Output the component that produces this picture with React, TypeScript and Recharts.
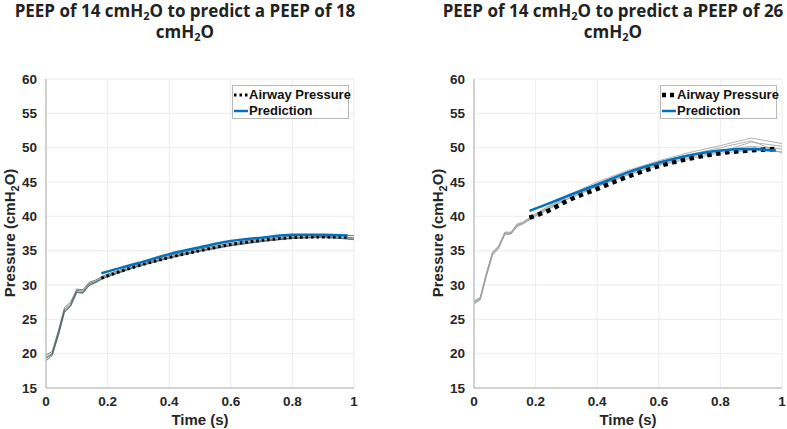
import React from 'react';
import { LineChart, Line, XAxis, YAxis, CartesianGrid } from 'recharts';

// sample times (s) for the measured breaths and for the prediction window
const TIME = [0, 0.02, 0.04, 0.06, 0.08, 0.1, 0.12, 0.14, 0.16, 0.18, 0.2, 0.3, 0.4, 0.5, 0.6, 0.7, 0.8, 0.9, 1.0];
const TIME_PRED = [0.18, 0.25, 0.3, 0.4, 0.5, 0.6, 0.7, 0.8, 0.9, 0.98];

// PEEP 14 -> 18
const BREATHS_18 = [
  [19.5, 20.0, 23.0, 26.4, 27.2, 29.2, 29.1, 30.2, 30.5, 31.0, 31.4, 32.9, 34.1, 35.1, 35.9, 36.5, 36.9, 37.1, 36.9],
  [19.0, 19.7, 22.6, 26.0, 26.9, 28.9, 28.8, 29.9, 30.3, 30.8, 31.2, 32.7, 33.9, 34.9, 35.7, 36.3, 36.8, 37.0, 36.6],
  [19.8, 20.3, 23.3, 26.7, 27.5, 29.4, 29.3, 30.4, 30.7, 31.2, 31.6, 33.1, 34.3, 35.3, 36.1, 36.7, 37.1, 37.3, 37.2],
  [19.3, 19.9, 22.8, 26.2, 27.0, 29.0, 28.9, 30.0, 30.4, 30.9, 31.3, 32.8, 34.0, 35.0, 35.8, 36.4, 36.8, 36.9, 36.7],
];
const AIRWAY_18 = [31.0, 32.1, 32.8, 34.0, 35.0, 35.9, 36.5, 36.9, 37.0, 37.0];
const PRED_18 = [31.7, 32.6, 33.2, 34.5, 35.5, 36.4, 36.9, 37.3, 37.3, 37.2];

// PEEP 14 -> 26
const BREATHS_26 = [
  [27.5, 28.0, 31.5, 34.6, 35.5, 37.5, 37.5, 38.7, 39.0, 39.6, 40.2, 42.7, 44.6, 46.3, 47.7, 48.8, 49.6, 50.2, 49.8],
  [27.2, 27.8, 31.2, 34.3, 35.3, 37.3, 37.4, 38.5, 38.9, 39.5, 40.0, 42.4, 44.3, 46.0, 47.4, 48.4, 49.2, 49.6, 49.4],
  [27.7, 28.2, 31.7, 34.8, 35.7, 37.7, 37.7, 38.9, 39.2, 39.8, 40.4, 43.0, 45.0, 46.7, 48.1, 49.3, 50.3, 51.4, 50.6],
  [27.4, 27.9, 31.4, 34.5, 35.4, 37.4, 37.5, 38.6, 39.0, 39.6, 40.1, 42.5, 44.4, 46.1, 47.5, 48.6, 49.4, 50.8, 50.2],
  [27.6, 28.1, 31.6, 34.7, 35.6, 37.6, 37.6, 38.8, 39.1, 39.7, 40.3, 42.8, 44.8, 46.5, 47.9, 49.0, 50.0, 51.0, 49.2],
];
const AIRWAY_26 = [39.8, 41.0, 42.2, 44.0, 45.8, 47.3, 48.4, 49.2, 49.6, 49.8];
const PRED_26 = [40.8, 42.0, 42.9, 44.6, 46.4, 47.8, 48.9, 49.6, 49.8, 49.6];

const X_TICKS = [0, 0.2, 0.4, 0.6, 0.8, 1];
const Y_TICKS = [15, 20, 25, 30, 35, 40, 45, 50, 55, 60];

const toPoints = (ts: number[], vs: number[]) => ts.map((t, i) => ({ t, v: vs[i] }));

const AXIS_FONT = '"Liberation Sans", Arial, sans-serif';
const tickStyle = { fill: '#262626', fontSize: 13.5, fontWeight: 700, fontFamily: AXIS_FONT };

type PanelProps = {
  left: number;
  title: string[];
  breaths: number[][];
  breathColor: string;
  airway: number[];
  pred: number[];
  dotWidth: number;
  dotDash: string;
  legendDash: string;
};

// renders "cmH2O" with a real subscript
function WithSub({ text }: { text: string }) {
  const parts = text.split('H2O');
  return (
    <>
      {parts.map((p, j) => (
        <React.Fragment key={j}>
          {p}
          {j < parts.length - 1 && (
            <>H<sub style={{ fontSize: 11, verticalAlign: '-3px', lineHeight: 0 }}>2</sub>O</>
          )}
        </React.Fragment>
      ))}
    </>
  );
}

function Panel({ left, title, breaths, breathColor, airway, pred, dotWidth, dotDash, legendDash }: PanelProps) {
  const plotLeft = 46;
  const plotRight = 354;
  return (
    <div style={{ position: 'absolute', left, top: 0, width: 393, height: 429 }}>
      <div
        style={{
          position: 'absolute', left: 185 - 200, width: 400, top: 0,
          textAlign: 'center', fontFamily: '"Open Sans", sans-serif', fontWeight: 700, fontSize: 17,
          lineHeight: '21px', color: '#222', whiteSpace: 'nowrap',
        }}
      >
        {title.map((line, i) => (
          <div key={i}><WithSub text={line} /></div>
        ))}
      </div>
      <LineChart width={393} height={429} margin={{ top: 79, right: 393 - plotRight, left: 0, bottom: 0 }}>
        <CartesianGrid stroke="#ececec" />
        <XAxis
          dataKey="t" type="number" domain={[0, 1]} ticks={X_TICKS} allowDataOverflow
          height={41} tick={tickStyle} tickLine={false} stroke="#b0b0b0" tickMargin={2}
          tickFormatter={(v: number) => String(v)}
          label={{ value: 'Time (s)', position: 'insideBottom', offset: 4, fill: '#262626', fontSize: 15, fontWeight: 700, fontFamily: AXIS_FONT }}
        />
        <XAxis xAxisId="top" orientation="top" type="number" domain={[0, 1]} height={0} tick={false} tickLine={false} stroke="#b0b0b0" />
        <YAxis
          type="number" domain={[15, 60]} ticks={Y_TICKS} width={plotLeft}
          tick={tickStyle} tickLine={false} stroke="#b0b0b0" tickMargin={3}
        />
        <YAxis yAxisId="right" orientation="right" type="number" domain={[15, 60]} width={0} tick={false} tickLine={false} stroke="#b0b0b0" />
        {breaths.map((b, i) => (
          <Line
            key={i} data={toPoints(TIME, b)} dataKey="v" type="linear" stroke={breathColor}
            strokeWidth={0.8} dot={false} isAnimationActive={false}
          />
        ))}
        <Line
          data={toPoints(TIME_PRED, airway)} dataKey="v" type="monotone" stroke="#000"
          strokeWidth={dotWidth} strokeDasharray={dotDash} dot={false} isAnimationActive={false}
        />
        <Line
          data={toPoints(TIME_PRED, pred)} dataKey="v" type="monotone" stroke="#0072bd"
          strokeWidth={2.5} dot={false} isAnimationActive={false}
        />
      </LineChart>
      <svg width={24} height={429} style={{ position: 'absolute', left: 0, top: 0, overflow: 'visible' }}>
        <text
          transform="translate(15,233) rotate(-90)"
          textAnchor="middle"
          fill="#262626"
          fontSize={15}
          fontWeight={700}
          fontFamily={AXIS_FONT}
        >
          Pressure (cmH<tspan dy={4} fontSize={11}>2</tspan><tspan dy={-4}>O)</tspan>
        </text>
      </svg>
      <div
        style={{
          position: 'absolute', left: 232, top: 85, width: 117, height: 34, boxSizing: 'border-box',
          border: '1px solid #b8b8b8', background: '#fff', fontFamily: AXIS_FONT, fontWeight: 700,
          fontSize: 13, color: '#111', lineHeight: '16px', paddingTop: 0.5,
        }}
      >
        <div style={{ display: 'flex', alignItems: 'center', whiteSpace: 'nowrap' }}>
          <svg width={16} height={16} style={{ flex: 'none' }}>
            <line x1={1} y1={8} x2={15} y2={8} stroke="#000" strokeWidth={dotWidth} strokeDasharray={legendDash} />
          </svg>
          <span>Airway Pressure</span>
        </div>
        <div style={{ display: 'flex', alignItems: 'center', whiteSpace: 'nowrap' }}>
          <svg width={16} height={16} style={{ flex: 'none' }}>
            <line x1={1} y1={8} x2={15} y2={8} stroke="#0072bd" strokeWidth={2.5} />
          </svg>
          <span>Prediction</span>
        </div>
      </div>
    </div>
  );
}

export default function App() {
  return (
    <div style={{ position: 'absolute', left: 0, top: 0, width: 787, height: 429, background: '#fff', overflow: 'hidden' }}>
      <Panel
        left={0}
        title={['PEEP of 14 cmH2O to predict a PEEP of 18', 'cmH2O']}
        breaths={BREATHS_18}
        breathColor="#4d5f5f"
        airway={AIRWAY_18}
        pred={PRED_18}
        dotWidth={3}
        dotDash="2.5 3"
        legendDash="2.5 3"
      />
      <Panel
        left={428}
        title={['PEEP of 14 cmH2O to predict a PEEP of 26', 'cmH2O']}
        breaths={BREATHS_26}
        breathColor="#9aa0a0"
        airway={AIRWAY_26}
        pred={PRED_26}
        dotWidth={4.5}
        dotDash="4.5 4.5"
        legendDash="4 4"
      />
    </div>
  );
}
